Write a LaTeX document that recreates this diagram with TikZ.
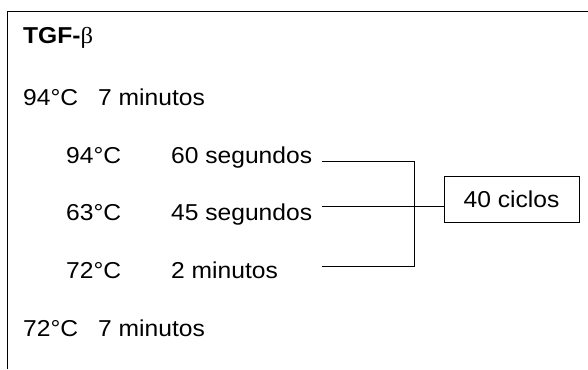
\documentclass[tikz,border=0pt]{standalone}
\usepackage{fontspec}
\setmainfont[FakeStretch=1.07]{Liberation Sans}
\newfontfamily\betafont[FakeStretch=1.07]{Liberation Serif}
\begin{document}
\begin{tikzpicture}[x=1bp,y=-1bp,
  txt/.style={anchor=base west, inner sep=0pt, font=\fontsize{23bp}{27bp}\selectfont},
  conn/.style={line width=0.9bp, draw=black},
  cyclebox/.style={draw, line width=0.9bp, minimum width=135bp, minimum height=46bp, inner sep=0pt, font=\fontsize{23bp}{27bp}\selectfont}]
\useasboundingbox (0,0) rectangle (588,369);
% frame (top and left edges)
\coordinate (frTR) at (588,11);
\coordinate (frTL) at (7.5,11);
\coordinate (frBL) at (7.5,369);
\draw[conn] (frTR) -- (frTL) -- (frBL);
% texts
\node[txt] (title) at (23,43) {\textbf{TGF-}{\betafont β}};
\node[txt] (t1) at (23,105) {94°C};
\node[txt] (d1) at (98,105) {7 minutos};
\node[txt] (t2) at (66,163) {94°C};
\node[txt] (d2) at (171,163) {60 segundos};
\node[txt] (t3) at (66,220) {63°C};
\node[txt] (d3) at (171,220) {45 segundos};
\node[txt] (t4) at (66,278) {72°C};
\node[txt] (d4) at (171,278) {2 minutos};
\node[txt] (t5) at (23,336) {72°C};
\node[txt] (d5) at (98,336) {7 minutos};
% cycles box
\node[cyclebox] (cyc) at (511.5,199) {40 ciclos};
% bracket
\coordinate (a1) at (322,161);
\coordinate (a2) at (414,161);
\coordinate (a3) at (414,266);
\coordinate (a4) at (322,266);
\coordinate (m1) at (322,206);
\draw[conn] (a1) -- (a2) -- (a3) -- (a4);
\draw[conn] (m1) -- (m1 -| cyc.west);
\end{tikzpicture}
\end{document}
